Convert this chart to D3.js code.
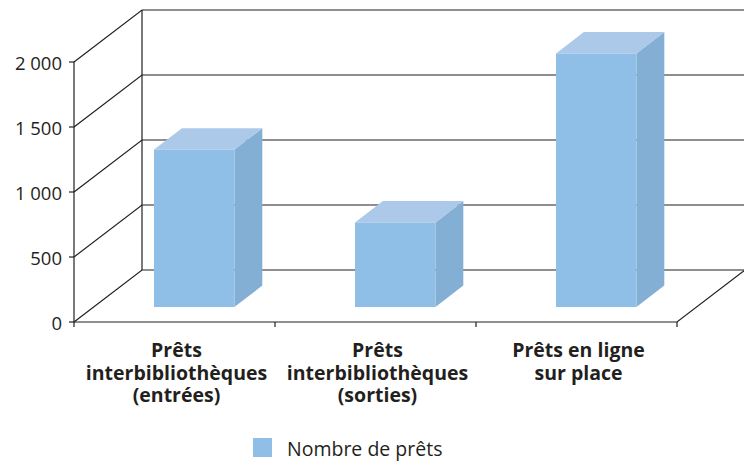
<!DOCTYPE html>
<html>
<head>
<meta charset="utf-8">
<style>
body { margin: 0; background: #fff; }
text { font-family: "Open Sans", sans-serif; fill: #231f20; }
.grid { stroke: #231f20; stroke-width: 1.2px; fill: none; }
</style>
</head>
<body>
<script src="https://cdn.jsdelivr.net/npm/d3@7/dist/d3.min.js"></script>
<script>

var categories = [
  ["Prêts", "interbibliothèques", "(entrées)"],
  ["Prêts", "interbibliothèques", "(sorties)"],
  ["Prêts en ligne", "sur place"]
];
var values = [1210, 650, 1950];
var yTicks = [0, 500, 1000, 1500, 2000];
var yTickLabels = ["0", "500", "1 000", "1 500", "2 000"];
var seriesName = "Nombre de prêts";

var width = 744, height = 465;

// depth of the floor (projection offset)
var depthX = 68, depthY = -52;
// bar position inside depth
var barT0 = 0.29, barDT = 0.41;

var x = d3.scaleBand()
    .domain(d3.range(categories.length))
    .range([74, 677])
    .paddingInner(0.6)
    .paddingOuter(0.3);

var band = d3.scaleBand()
    .domain(d3.range(categories.length))
    .range([74, 677]);

var y = d3.scaleLinear()
    .domain([0, 2000])
    .range([322, 62]);

function proj(px, v, t) {
  return [px + depthX * t, y(v) + depthY * t];
}

var svg = d3.select("body").append("svg")
    .attr("width", width)
    .attr("height", height);

var line = d3.line();

// back wall and side wall grid lines
var grid = svg.append("g");
yTicks.forEach(function(v) {
  grid.append("path").attr("class", "grid")
    .attr("d", line([proj(74, v, 0), proj(74, v, 1), proj(677, v, 1)]));
});
// back vertical edge
grid.append("path").attr("class", "grid")
  .attr("d", line([proj(74, 0, 1), proj(74, 2000, 1)]));
// front axis
grid.append("path").attr("class", "grid")
  .attr("d", line([proj(74, 0, 0), proj(74, 2000, 0)]));
// floor front edge and right edge
grid.append("path").attr("class", "grid")
  .attr("d", line([proj(74, 0, 0), proj(677, 0, 0), proj(677, 0, 1)]));

// y ticks
yTicks.forEach(function(v, i) {
  svg.append("line")
    .attr("x1", 69).attr("x2", 74)
    .attr("y1", y(v)).attr("y2", y(v))
    .attr("stroke", "#231f20").attr("stroke-width", 1.2);
  svg.append("text")
    .attr("x", 62).attr("y", y(v) + 1)
    .attr("dy", "0.36em")
    .attr("text-anchor", "end")
    .style("font-size", "18.5px")
    .text(yTickLabels[i]);
});

// category ticks
d3.range(categories.length + 1).forEach(function(i) {
  var px = i < categories.length ? band(i) : band.range()[1];
  svg.append("line")
    .attr("x1", px).attr("x2", px)
    .attr("y1", 322).attr("y2", 327)
    .attr("stroke", "#231f20").attr("stroke-width", 1.2);
});

// bars
var bars = svg.append("g");
values.forEach(function(v, i) {
  var x0 = x(i), x1 = x(i) + x.bandwidth();
  var t0 = barT0, t1 = barT0 + barDT;
  // side face
  bars.append("path")
    .attr("fill", "#84afd4")
    .attr("d", line([proj(x1, 0, t0), proj(x1, 0, t1), proj(x1, v, t1), proj(x1, v, t0)]) + "Z");
  // top face
  bars.append("path")
    .attr("fill", "#adc9ea")
    .attr("d", line([proj(x0, v, t0), proj(x0, v, t1), proj(x1, v, t1), proj(x1, v, t0)]) + "Z");
  // front face
  bars.append("path")
    .attr("fill", "#8fbfe7")
    .attr("d", line([proj(x0, 0, t0), proj(x1, 0, t0), proj(x1, v, t0), proj(x0, v, t0)]) + "Z");
});

// category labels
categories.forEach(function(lines, i) {
  var t = svg.append("text")
    .attr("text-anchor", "middle")
    .style("font-size", "19.5px")
    .style("font-weight", "bold");
  lines.forEach(function(s, j) {
    t.append("tspan")
      .attr("x", band(i) + band.bandwidth() / 2 + 2)
      .attr("y", 357 + j * 22.5)
      .text(s);
  });
});

// legend
svg.append("rect")
  .attr("x", 253).attr("y", 438)
  .attr("width", 19).attr("height", 19)
  .attr("fill", "#8fbfe7");
svg.append("text")
  .attr("x", 287).attr("y", 456)
  .style("font-size", "19.5px")
  .text(seriesName);

</script>
</body>
</html>
